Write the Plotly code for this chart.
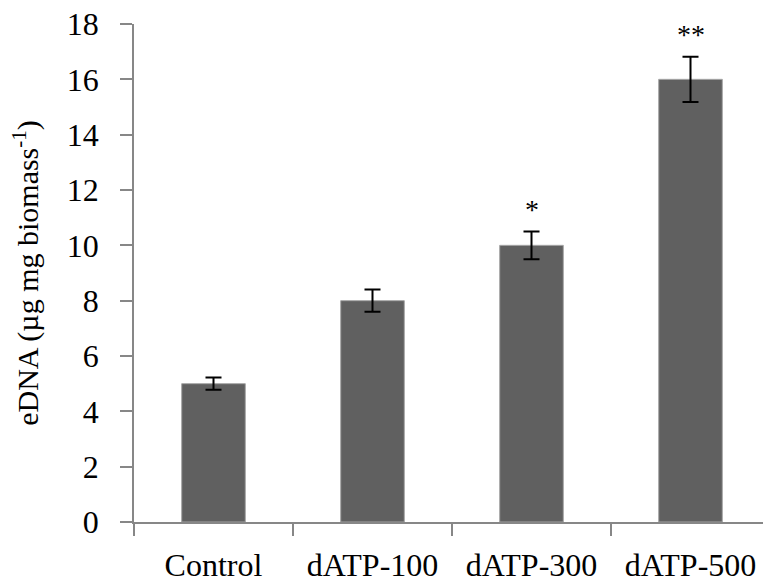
import plotly.graph_objects as go

categories = ["Control", "dATP-100", "dATP-300", "dATP-500"]
edna = [5.0, 8.0, 10.0, 16.0]
edna_err = [0.22, 0.4, 0.5, 0.82]
signif = ["", "", "*", "**"]
y_ticks = [0, 2, 4, 6, 8, 10, 12, 14, 16, 18]

FONT = "Liberation Serif"
AXIS_COLOR = "#878787"

fig = go.Figure()
fig.add_trace(go.Bar(
    x=categories, y=edna,
    marker=dict(color="#606060", line=dict(color="#a6a6a6", width=1)),
    error_y=dict(type="data", array=edna_err, visible=True,
                 color="black", thickness=2, width=8),
    showlegend=False,
))

for c, v, e, s in zip(categories, edna, edna_err, signif):
    if s:
        fig.add_annotation(x=c, y=v + e + 0.8, text=s, showarrow=False,
                           font=dict(family=FONT, size=28, color="black"),
                           yanchor="middle", xanchor="center")

fig.update_layout(
    width=763, height=583,
    margin=dict(l=134, r=0, t=24, b=61),
    paper_bgcolor="white", plot_bgcolor="white",
    bargap=0.6,
    font=dict(family=FONT, color="black"),
)
fig.update_xaxes(
    type="category", range=[-0.5, 3.456],
    showline=True, linecolor=AXIS_COLOR, linewidth=1.5,
    ticks="outside", ticklen=12, tickcolor=AXIS_COLOR, tickwidth=1.5,
    tickson="boundaries", showgrid=False, zeroline=False,
    ticklabelstandoff=14,
    tickfont=dict(family=FONT, size=32, color="black"),
)
fig.update_yaxes(
    range=[0, 18], tickvals=y_ticks,
    showline=True, linecolor=AXIS_COLOR, linewidth=1.5,
    ticks="outside", ticklen=12, tickcolor=AXIS_COLOR, tickwidth=1.5,
    showgrid=False, zeroline=False,
    ticklabelstandoff=15,
    tickfont=dict(family=FONT, size=32, color="black"),
    title=dict(text="eDNA (µg mg biomass<sup>-1</sup>)",
               font=dict(family=FONT, size=30, color="black"), standoff=19),
)

fig.write_html("out.html")
